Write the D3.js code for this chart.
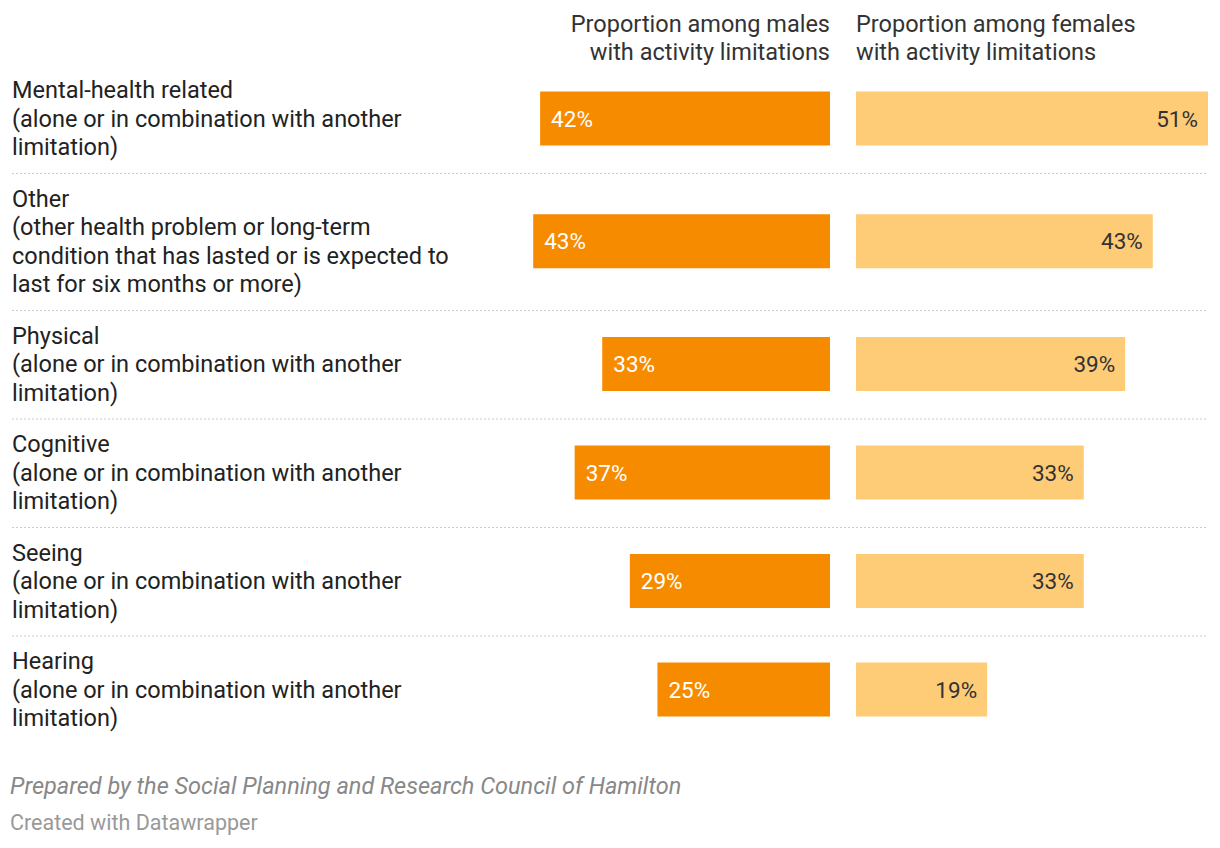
<!DOCTYPE html>
<html><head><meta charset="utf-8">
<script src="https://cdn.jsdelivr.net/npm/d3@7"></script>
<style>body{margin:0;background:#fff;font-family:Roboto,sans-serif;}</style>
</head><body><svg id="c" width="1220" height="848"></svg>
<script>
const categories = [
 ["Mental-health related","(alone or in combination with another","limitation)"],
 ["Other","(other health problem or long-term","condition that has lasted or is expected to","last for six months or more)"],
 ["Physical","(alone or in combination with another","limitation)"],
 ["Cognitive","(alone or in combination with another","limitation)"],
 ["Seeing","(alone or in combination with another","limitation)"],
 ["Hearing","(alone or in combination with another","limitation)"]
];
const males = [42,43,33,37,29,25];
const females = [51,43,39,33,33,19];
const headers = [["Proportion among males","with activity limitations"],["Proportion among females","with activity limitations"]];

const svg = d3.select("#c");
const x = d3.scaleLinear().domain([0,51]).range([0,352]);
const mRight = 830, fLeft = 856, lh = 28.5, barH = 54;

headers[0].forEach((t,i)=>svg.append("text").attr("x",mRight).attr("y",32+i*28).attr("text-anchor","end").attr("font-size",23.5).attr("fill","#333").text(t));
headers[1].forEach((t,i)=>svg.append("text").attr("x",fLeft).attr("y",32+i*28).attr("font-size",23.5).attr("fill","#333").text(t));

let y0 = 65;
categories.forEach((lines,i)=>{
  const h = lines.length*lh + 23;
  lines.forEach((t,j)=>svg.append("text").attr("x",12).attr("y",y0+33+j*lh).attr("font-size",23.5).attr("fill","#222").text(t));
  const cy = y0 + 25 + (lines.length-1)*lh/2;
  const mw = x(males[i]);
  svg.append("rect").attr("x",mRight-mw).attr("y",cy-barH/2).attr("width",mw).attr("height",barH).attr("fill","#f78b00");
  svg.append("text").attr("x",mRight-mw+11).attr("y",cy+8).attr("font-size",22.5).attr("fill","#fff").text(males[i]+"%");
  const fw = x(females[i]);
  svg.append("rect").attr("x",fLeft).attr("y",cy-barH/2).attr("width",fw).attr("height",barH).attr("fill","#fecb77");
  svg.append("text").attr("x",fLeft+fw-10).attr("y",cy+8).attr("text-anchor","end").attr("font-size",22.5).attr("fill","#333").text(females[i]+"%");
  y0 += h;
  if(i<categories.length-1) svg.append("line").attr("x1",12).attr("x2",1208).attr("y1",y0).attr("y2",y0).attr("stroke","#ccc").attr("stroke-dasharray","2,2");
});
svg.append("text").attr("x",10).attr("y",794).attr("font-size",23.5).attr("font-style","italic").attr("fill","#888").text("Prepared by the Social Planning and Research Council of Hamilton");
svg.append("text").attr("x",10).attr("y",830).attr("font-size",21.5).attr("fill","#999").text("Created with Datawrapper");
</script></body></html>
